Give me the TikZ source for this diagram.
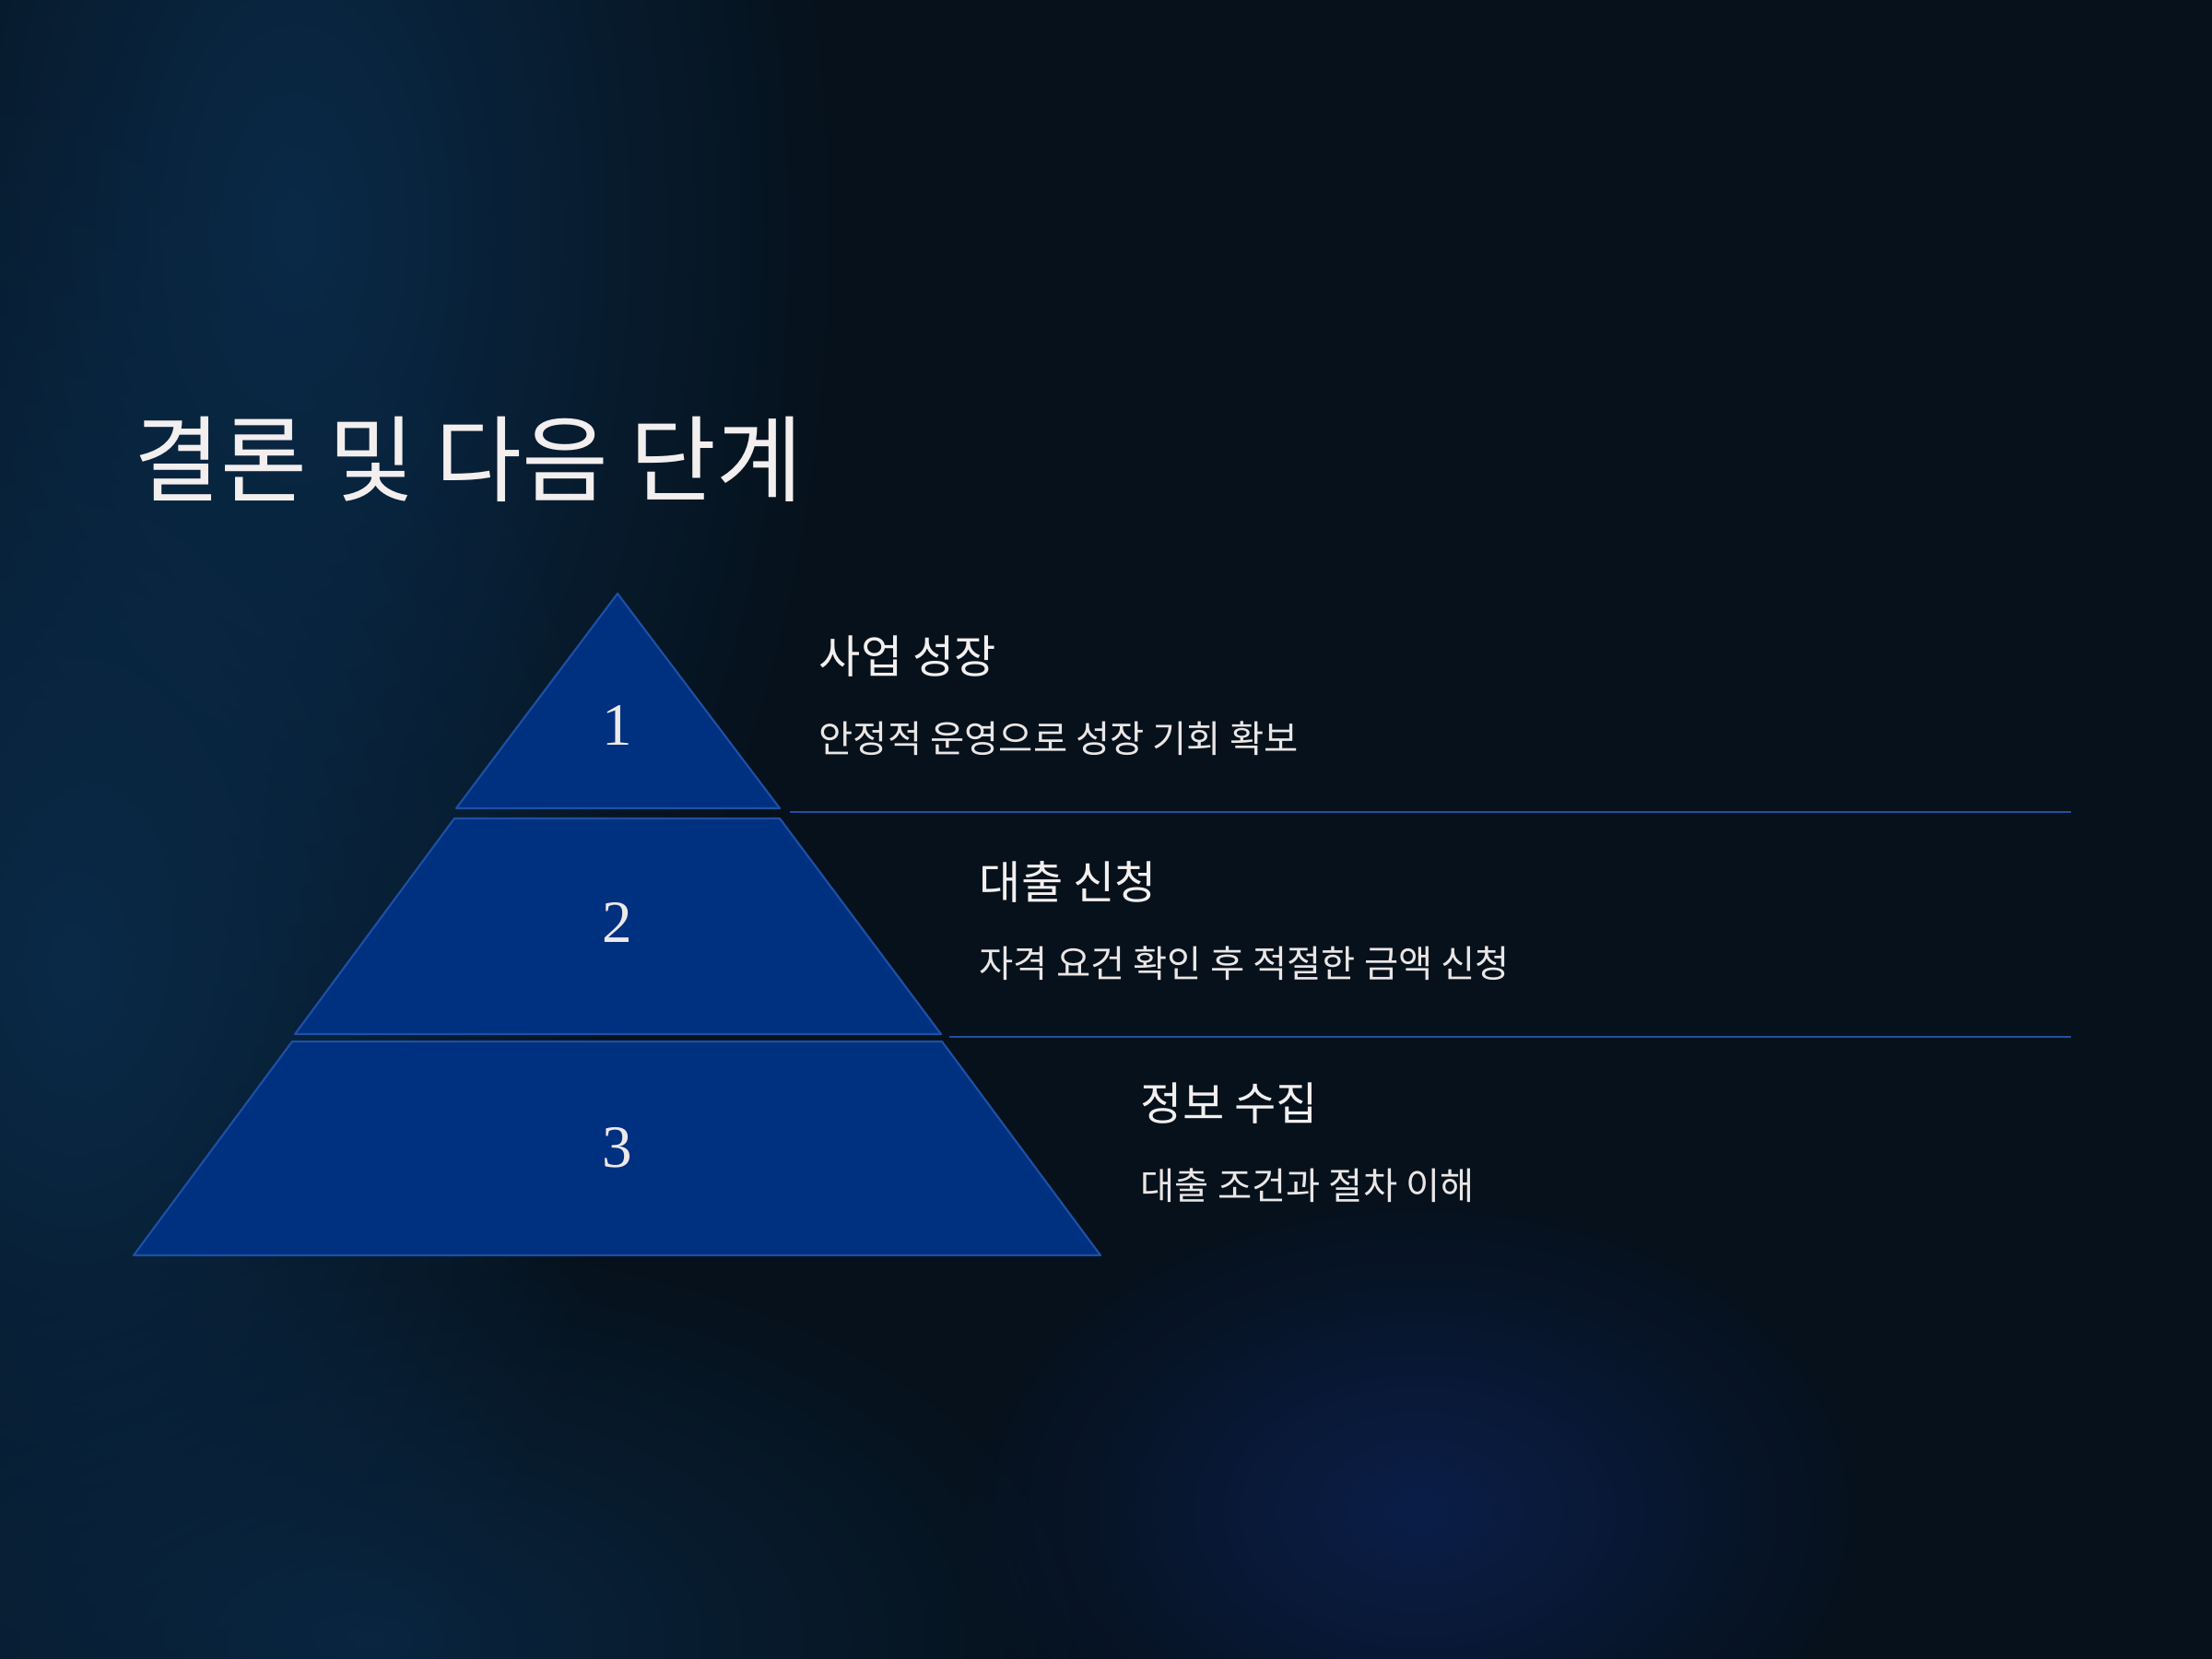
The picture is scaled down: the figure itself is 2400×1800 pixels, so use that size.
\documentclass[tikz,border=0pt]{standalone}
\usepackage{fontspec}
\newfontfamily\krfont{Noto Sans CJK KR}
\newfontfamily\numfont{Liberation Serif}
\usetikzlibrary{positioning,fadings}
\definecolor{bgnavy}{RGB}{6,17,27}
\definecolor{glowblue}{RGB}{10,42,72}
\definecolor{glowdeep}{RGB}{11,30,72}
\definecolor{tierblue}{RGB}{0,48,128}
\definecolor{edgeblue}{RGB}{30,80,165}
\definecolor{textwhite}{RGB}{243,239,239}
\tikzfading[name=glowfade, inner color=transparent!0, outer color=transparent!100]

\begin{document}
\begin{tikzpicture}[x=0.01cm, y=-0.01cm,
            glow/.style={path fading=glowfade, fit fading=true},
            tier/.style={draw=edgeblue, fill=tierblue, line width=0.6pt, line join=round},
            rule/.style={draw=edgeblue, line width=0.8pt},
            num/.style={text=textwhite!95!gray, font=\numfont\fontsize{18.5}{22}\selectfont},
            head/.style={anchor=west, inner sep=0pt, text=textwhite, font=\krfont\fontsize{14}{17}\selectfont},
            desc/.style={anchor=west, inner sep=0pt, text=textwhite!92!gray, font=\krfont\fontsize{11.5}{14}\selectfont}
        ]
            \useasboundingbox (0,0) rectangle (2400,1800);
            % Background
            \begin{scope}
                \clip (0,0) rectangle (2400,1800);
                \fill [bgnavy] (0,0) rectangle (2400,1800);
                \fill [glowblue, glow] (320,250) ellipse [x radius=6cm, y radius=11cm];
                \fill [glowblue, glow] (80,1050) ellipse [x radius=6cm, y radius=10cm];
                \fill [glowblue, glow, opacity=0.8] (400,1780) ellipse [x radius=8cm, y radius=4.5cm];
                \fill [glowdeep, glow] (1540,1640) ellipse [x radius=5cm, y radius=3.5cm];
            \end{scope}

            % Title
            \node (title) at (145,498) [anchor=west, inner sep=0pt, text=textwhite, font=\krfont\fontsize{29}{35}\selectfont] {결론 및 다음 단계};

            % Pyramid tiers
            \coordinate (apex) at (670,644);
            \draw [tier] (apex) -- (846,877) -- (495,877) -- cycle;
            \draw [tier] (493,888) -- (846,888) -- (1021,1122) -- (320,1122) -- cycle;
            \draw [tier] (317,1130) -- (1022,1130) -- (1194,1362) -- (145,1362) -- cycle;
            \node (n1) at (670,787) [num] {1};
            \node (n2) at (670,1001) [num] {2};
            \node (n3) at (670,1245) [num] {3};

            % Separator lines
            \coordinate (r1a) at (857,881);
            \coordinate (r1b) at (2247,881);
            \coordinate (r2a) at (1030,1125);
            \coordinate (r2b) at (2247,1125);
            \draw [rule] (r1a) -- (r1b);
            \draw [rule] (r2a) -- (r2b);

            % Labels
            \node (h1) at (888,712) [head] {사업 성장};
            \node (d1) at (888,801) [desc] {안정적 운영으로 성장 기회 확보};
            \node (h2) at (1062,957) [head] {대출 신청};
            \node (d2) at (1062,1045) [desc] {자격 요건 확인 후 적절한 금액 신청};
            \node (h3) at (1237,1197) [head] {정보 수집};
            \node (d3) at (1237,1286) [desc] {대출 조건과 절차 이해};
        \end{tikzpicture}
\end{document}
